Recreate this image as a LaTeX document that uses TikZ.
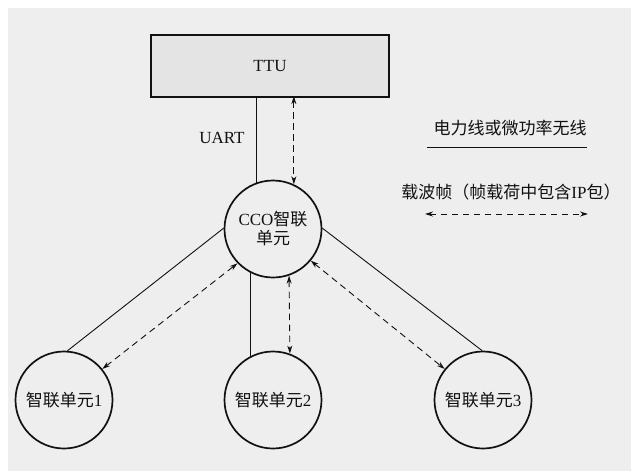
\documentclass[tikz,border=0pt]{standalone}
\usepackage{fontspec}
\setmainfont{Liberation Serif}
\newfontfamily\cjk{Noto Sans CJK SC}
\usetikzlibrary{arrows.meta}
\definecolor{bggray}{HTML}{EEEEEE}
\definecolor{boxgray}{HTML}{E4E4E4}
\definecolor{inkc}{HTML}{111111}
\tikzset{
  unit/.style={circle,draw=inkc,line width=1.7pt,minimum size=97pt,inner sep=0pt,
    font=\fontsize{17}{20}\selectfont,text=inkc,align=center},
  ttubox/.style={rectangle,draw=inkc,line width=2.3pt,fill=boxgray,minimum width=238pt,
    minimum height=62pt,font=\fontsize{17}{20}\selectfont,text=inkc},
  lbl/.style={font=\fontsize{17}{20}\selectfont,text=inkc,inner sep=0pt},
  wire/.style={draw=inkc,line width=0.9pt},
  carrier/.style={draw=inkc,line width=0.9pt,dash pattern=on 6.5pt off 4.5pt,
    {Stealth[length=8pt,width=5pt]}-{Stealth[length=8pt,width=5pt]}}
}
\begin{document}
\begin{tikzpicture}[x=1pt,y=-1pt]
\useasboundingbox (0,0) rectangle (631,471);
\fill[bggray] (8,8) rectangle (631,471);
% nodes
\node[ttubox] (ttu) at (270,66) {TTU};
\node[unit] (cco) at (273,229) {CCO{\cjk 智联}\\[-1pt]{\cjk 单元}};
\node[unit] (u1) at (64,400) {{\cjk 智联单元}1};
\node[unit] (u2) at (273,400) {{\cjk 智联单元}2};
\node[unit] (u3) at (483,400) {{\cjk 智联单元}3};
\node[lbl] (uart) at (222,138) {UART};
% TTU - CCO
\draw[wire] (cco.110.5) -- (cco.110.5 |- ttu.south);
\draw[carrier] ([yshift=2pt]cco.65.6 |- ttu.south) -- (cco.65.6);
% CCO - units
\draw[wire] (cco.179) -- (u1.86);
\draw[carrier] (u1.39) -- (cco.224);
\draw[wire] (cco.243) -- (u2.117);
\draw[carrier] (cco.289.3) -- (u2.70.7);
\draw[wire] (cco.1) -- (u3.91);
\draw[carrier] (cco.320) -- (u3.141);
% legend
\node[lbl] (leg1) at (510,128) {\cjk 电力线或微功率无线};
\coordinate (l1a) at (427,147);
\coordinate (l1b) at (587,147);
\draw[wire] (l1a) -- (l1b);
\node[lbl] (leg2) at (511,192) {{\cjk 载波帧（帧载荷中包含}IP{\cjk 包）}};
\coordinate (l2a) at (425,214);
\coordinate (l2b) at (588,214);
\draw[carrier] (l2a) -- (l2b);
\end{tikzpicture}
\end{document}
